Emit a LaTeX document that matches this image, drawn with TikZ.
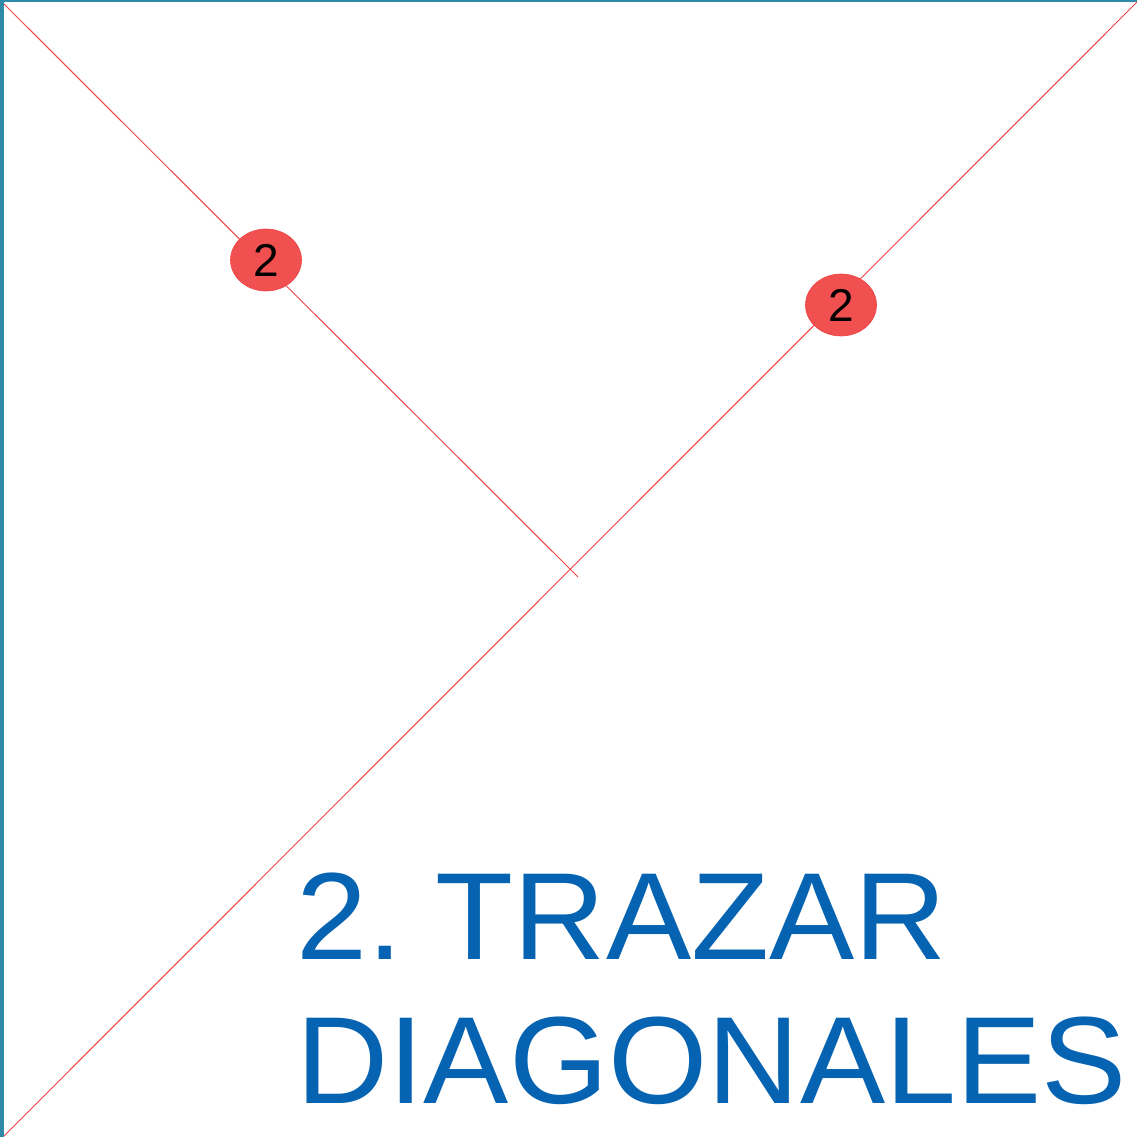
\documentclass[tikz,border=0pt]{standalone}
\usepackage{fontspec}
\setmainfont{Liberation Sans}
\newfontfamily\titlefont[FakeStretch=1.03]{Liberation Sans}
\usetikzlibrary{shapes.geometric}
\definecolor{frameteal}{HTML}{2E8AA6}
\definecolor{titleblue}{HTML}{0563B1}
\definecolor{diagred}{HTML}{F04444}
\definecolor{badgefill}{HTML}{F05050}
\tikzset{
  diagline/.style={draw=diagred, line width=1pt},
  badge/.style={ellipse, draw=diagred, line width=0.6pt, fill=badgefill,
    minimum width=71pt, minimum height=62pt, inner sep=0pt,
    font=\fontsize{46}{46}\selectfont, text=black},
  title/.style={anchor=base west, text=titleblue, inner sep=0pt,
    font=\titlefont\fontsize{124}{124}\selectfont}
}
\begin{document}
\begin{tikzpicture}[x=1pt,y=-1pt]
\useasboundingbox (0,0) rectangle (1137,1137);
\fill[white] (0,0) rectangle (1137,1137);
\fill[frameteal] (0,0) rectangle (4,1137);
\fill[frameteal] (0,0) rectangle (1137,2);
\coordinate (a1) at (4,4);
\coordinate (a2) at (578,577);
\coordinate (b1) at (4,1136);
\coordinate (b2) at (1137,2);
\draw[diagline] (a1) -- (a2);
\draw[diagline] (b1) -- (b2);
\node[badge] (c1) at (266,260) {2};
\node[badge] (c2) at (841,305) {2};
\node[title] (t1) at (296,959) {2.\hspace{-14pt} TRAZAR};
\node[title] (t2) at (296,1103) {DIAGONALES};
\end{tikzpicture}
\end{document}
